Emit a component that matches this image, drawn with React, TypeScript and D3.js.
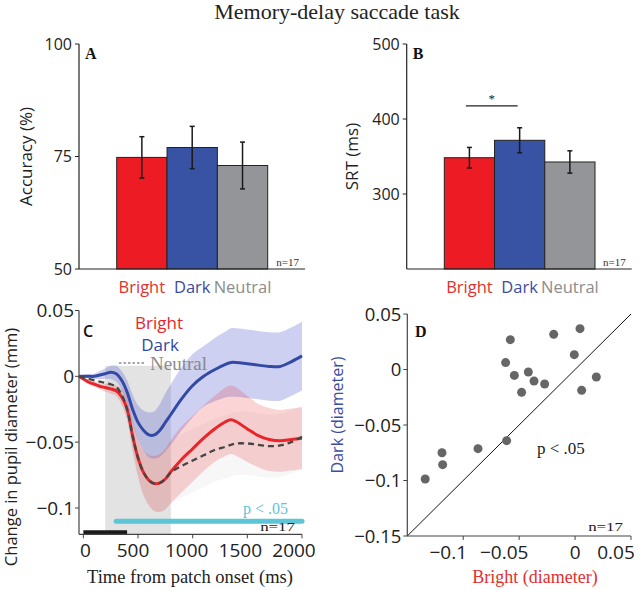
import React from "react";
import * as d3 from "d3";

// ---------- Data ----------
const CATS = ["Bright", "Dark", "Neutral"];
const BAR_COLORS = ["#ed1c24", "#3853a4", "#939598"];
const LABEL_COLORS = ["#e2302e", "#3a4da0", "#8c8c8c"];

const ACC_MEAN = [74.8, 77.0, 73.0];
const ACC_ERR = [4.6, 4.7, 5.2];
const ACC_TICKS = [50, 75, 100];

const SRT_MEAN = [348.4, 371.6, 342.7];
const SRT_ERR = [13.7, 16.7, 14.9];
const SRT_TICKS = [300, 400, 500];

const TIMES = [-40, 0, 50, 100, 150, 200, 250, 300, 350, 400, 450, 500, 550, 600, 650, 700, 750, 800, 900, 1000, 1100, 1200, 1300, 1350, 1400, 1500, 1600, 1700, 1800, 1900, 2000];
const DARK_MEAN = [0, 0, 0, 0, 0.001, 0.002, 0.003, 0.002, -0.003, -0.012, -0.025, -0.035, -0.041, -0.0445, -0.0445, -0.041, -0.035, -0.029, -0.017, -0.007, 0.0, 0.005, 0.009, 0.0105, 0.0105, 0.0095, 0.0085, 0.0075, 0.0075, 0.011, 0.0155];
const DARK_SEM = [0.0005, 0.001, 0.0015, 0.002, 0.003, 0.004, 0.005, 0.006, 0.007, 0.009, 0.011, 0.013, 0.015, 0.017, 0.018, 0.02, 0.022, 0.023, 0.024, 0.024, 0.023, 0.024, 0.025, 0.026, 0.026, 0.026, 0.026, 0.026, 0.026, 0.026, 0.026];
const BRIGHT_MEAN = [0, -0.002, -0.0045, -0.006, -0.0075, -0.0085, -0.0095, -0.011, -0.0155, -0.025, -0.045, -0.062, -0.073, -0.079, -0.0815, -0.081, -0.078, -0.0725, -0.063, -0.055, -0.047, -0.04, -0.0345, -0.033, -0.0345, -0.04, -0.045, -0.048, -0.049, -0.048, -0.047];
const BRIGHT_SEM = [0.0005, 0.001, 0.0015, 0.002, 0.0025, 0.003, 0.0035, 0.004, 0.006, 0.008, 0.011, 0.014, 0.017, 0.019, 0.021, 0.022, 0.023, 0.024, 0.025, 0.025, 0.025, 0.025, 0.026, 0.026, 0.026, 0.025, 0.024, 0.024, 0.0235, 0.0235, 0.0235];
const NEUTRAL_MEAN = [0, -0.001, -0.002, -0.003, -0.004, -0.005, -0.006, -0.008, -0.014, -0.025, -0.045, -0.062, -0.073, -0.079, -0.0815, -0.081, -0.078, -0.073, -0.068, -0.064, -0.06, -0.056, -0.0535, -0.052, -0.051, -0.051, -0.052, -0.053, -0.0525, -0.05, -0.046];
const NEUTRAL_SEM = [0.0005, 0.001, 0.0015, 0.002, 0.0025, 0.003, 0.004, 0.005, 0.007, 0.009, 0.012, 0.015, 0.018, 0.02, 0.021, 0.022, 0.023, 0.023, 0.024, 0.024, 0.024, 0.024, 0.024, 0.024, 0.024, 0.024, 0.024, 0.024, 0.024, 0.024, 0.024];
const SHADE_WINDOW = [200, 800];
const SHADE_TOP = 0.008;
const SIG_WINDOW = [300, 2000];
const SIG_Y = -0.11;
const STIM_WINDOW = [0, 400];
const C_XTICKS = [0, 500, 1000, 1500, 2000];
const C_YTICKS = [0.05, 0, -0.05, -0.1];

const D_BRIGHT = [-0.134, -0.119, -0.1184, -0.0868, -0.0612, -0.0621, -0.0579, -0.0543, -0.0478, -0.0418, -0.0367, -0.0272, -0.0191, -0.0007, 0.0044, 0.0059, 0.019];
const D_DARK = [-0.0986, -0.075, -0.0857, -0.0713, -0.0641, 0.0062, 0.0269, -0.0053, -0.0206, -0.0023, -0.0104, -0.0131, 0.0317, 0.0134, 0.0368, -0.0188, -0.0068];
const D_XTICKS = [-0.1, -0.05, 0, 0.05];
const D_YTICKS = [0.05, 0, -0.05, -0.1, -0.15];

const SERIF = "'Liberation Serif', 'Times New Roman', serif";
const SANS = "'Open Sans', 'Noto Sans', sans-serif";

function fmt(v: number): string {
  if (v === 0) return "0";
  return (v < 0 ? "\u2212" : "") + String(Math.abs(v));
}

function NLabel(props: { x: number; y: number }) {
  return (
    <g transform={`translate(${props.x},${props.y}) scale(1.3,1)`}>
      <text x={0} y={0} textAnchor="end" fontFamily={SERIF} fontSize={13} fill="#222">n=17</text>
    </g>
  );
}

function BarPanel(props: {
  x0: number; x1: number; axisX: number; axisEnd: number; top: number; bottom: number;
  domain: [number, number]; means: number[]; errs: number[]; ticks: number[];
  ylabel: string; ylabelX: number; letter: string; sig?: boolean;
}) {
  const y = d3.scaleLinear().domain(props.domain).range([props.bottom, props.top]);
  const x = d3.scaleBand<string>().domain(CATS).range([props.x0, props.x1]).padding(0);
  const bw = x.bandwidth();
  const midY = (props.top + props.bottom) / 2;
  return (
    <g>
      {CATS.map((c, i) => (
        <rect key={c} x={x(c)} y={y(props.means[i])} width={bw} height={props.bottom - y(props.means[i])}
          fill={BAR_COLORS[i]} stroke="#222" strokeWidth={1} />
      ))}
      {CATS.map((c, i) => {
        const cx = (x(c) as number) + bw / 2;
        const yt = y(props.means[i] + props.errs[i]);
        const yb = y(props.means[i] - props.errs[i]);
        return (
          <g key={c} stroke="#1a1a1a" strokeWidth={1.5}>
            <line x1={cx} x2={cx} y1={yt} y2={yb} />
            <line x1={cx - 2.5} x2={cx + 2.5} y1={yt} y2={yt} />
            <line x1={cx - 2.5} x2={cx + 2.5} y1={yb} y2={yb} />
          </g>
        );
      })}
      <line x1={props.axisX} x2={props.axisX} y1={props.top} y2={props.bottom} stroke="#222" strokeWidth={1.2} />
      <line x1={props.axisX} x2={props.axisEnd} y1={props.bottom} y2={props.bottom} stroke="#222" strokeWidth={1.2} />
      {props.ticks.map(t => (
        <g key={t}>
          <line x1={props.axisX - 4} x2={props.axisX} y1={y(t)} y2={y(t)} stroke="#222" strokeWidth={1} />
          <text x={props.axisX - 7} y={y(t)} dy="0.36em" textAnchor="end" fontFamily={SANS} fontSize={16} fill="#222">{t}</text>
        </g>
      ))}
      <text transform={`translate(${props.ylabelX},${midY}) rotate(-90)`} textAnchor="middle" fontFamily={SANS} fontSize={17} fill="#222">{props.ylabel}</text>
      <text x={props.axisX + 6} y={props.top + 15} fontFamily={SERIF} fontWeight="bold" fontSize={16} fill="#111">{props.letter}</text>
      <text x={props.axisEnd - 6} y={props.bottom - 3} textAnchor="end" fontFamily={SERIF} fontSize={11} fill="#333">n=17</text>
      {CATS.map((c, i) => (
        <text key={c} x={(x(c) as number) + bw / 2} y={props.bottom + 24} textAnchor="middle" fontFamily={SANS} fontSize={16.5} fill={LABEL_COLORS[i]}>{c}</text>
      ))}
      {props.sig && (() => {
        const a = (x(CATS[0]) as number) + bw * 0.43;
        const b = (x(CATS[1]) as number) + bw * 0.46;
        const yy = y(SRT_MEAN[1] + SRT_ERR[1]) - 22;
        return (
          <g>
            <line x1={a} x2={b} y1={yy} y2={yy} stroke="#222" strokeWidth={1.2} />
            <text x={(a + b) / 2} y={yy - 3} textAnchor="middle" fontFamily={SERIF} fontSize={13} fill="#222">*</text>
          </g>
        );
      })()}
    </g>
  );
}

function PupilPanel() {
  const x = d3.scaleLinear().domain([-40, 2000]).range([79, 302]);
  const y = d3.scaleLinear().domain([-0.12, 0.05]).range([534.3, 310.5]);
  const idx = TIMES.map((_, i) => i);
  const curve = d3.curveCatmullRom.alpha(0.5);
  const band = (m: number[], s: number[]) =>
    d3.area<number>().x(i => x(TIMES[i])).y0(i => y(m[i] - s[i])).y1(i => y(m[i] + s[i])).curve(curve)(idx) as string;
  const line = (m: number[]) => d3.line<number>().x(i => x(TIMES[i])).y(i => y(m[i])).curve(curve)(idx) as string;
  const [y0, y1] = y.range();
  return (
    <g>
      <rect x={x(SHADE_WINDOW[0])} width={x(SHADE_WINDOW[1]) - x(SHADE_WINDOW[0])} y={y(SHADE_TOP)} height={y0 - y(SHADE_TOP)} fill="rgb(200,200,200)" opacity={0.5} />
      <path d={band(NEUTRAL_MEAN, NEUTRAL_SEM)} fill="rgb(200,200,200)" opacity={0.15} />
      <path d={band(DARK_MEAN, DARK_SEM)} fill="rgb(90,100,210)" opacity={0.3} />
      <path d={band(BRIGHT_MEAN, BRIGHT_SEM)} fill="rgb(237,40,50)" opacity={0.2} />
      <path d={line(DARK_MEAN)} fill="none" stroke="#3349a6" strokeWidth={3} />
      <path d={line(BRIGHT_MEAN)} fill="none" stroke="#e8262a" strokeWidth={3} />
      <path d={line(NEUTRAL_MEAN)} fill="none" stroke="#454545" strokeWidth={2.3} strokeDasharray="6 4" />
      <line x1={x(SIG_WINDOW[0])} x2={x(SIG_WINDOW[1])} y1={y(SIG_Y)} y2={y(SIG_Y)} stroke="#5cc6d6" strokeWidth={5} strokeLinecap="round" />
      <line x1={x(STIM_WINDOW[0])} x2={x(STIM_WINDOW[1])} y1={y0 - 2} y2={y0 - 2} stroke="#1a1a1a" strokeWidth={4} />
      {/* axes */}
      <line x1={79} x2={79} y1={y1} y2={y0} stroke="#444" strokeWidth={1.2} />
      <line x1={79} x2={302} y1={y0} y2={y0} stroke="#444" strokeWidth={1.2} />
      {C_XTICKS.map((t, i) => (
        <g key={t}>
          <line x1={x(t)} x2={x(t)} y1={y0} y2={y0 + 4} stroke="#444" />
          <text x={x(t)} dx={i === 0 ? 2 : -4 - i} y={556.7} textAnchor="middle" fontFamily={SANS} fontSize={19} fill="#222">{t}</text>
        </g>
      ))}
      {C_YTICKS.map(t => (
        <g key={t}>
          <line x1={75} x2={79} y1={y(t)} y2={y(t)} stroke="#444" />
          <text x={74} y={y(t)} dy="0.36em" textAnchor="end" fontFamily={SANS} fontSize={19} fill="#222">{fmt(t)}</text>
        </g>
      ))}
      <text x={190} y={583} textAnchor="middle" fontFamily={SERIF} fontSize={18.5} fill="#222">Time from patch onset (ms)</text>
      <text transform={`translate(17,447) rotate(-90)`} textAnchor="middle" fontFamily={SANS} fontSize={16.5} fill="#222">Change in pupil diameter (mm)</text>
      <text x={83} y={336.5} fontFamily={SANS} fontWeight={600} fontSize={16} fill="#111">C</text>
      {/* legend */}
      <text x={159} y={329} textAnchor="middle" fontFamily={SANS} fontSize={17} fill="#e8262a">Bright</text>
      <text x={160} y={351} textAnchor="middle" fontFamily={SANS} fontSize={17} fill="#3349a6">Dark</text>
      <line x1={119} x2={144} y1={363} y2={363} stroke="#555" strokeWidth={1.2} strokeDasharray="2.5 2" />
      <text x={150} y={370} fontFamily={SERIF} fontSize={19} fill="#808080" opacity={0.9}>Neutral</text>
      <text x={288} y={513.5} textAnchor="end" fontFamily={SERIF} fontSize={16} fill="#5cc6d6">p &lt; .05</text>
      <NLabel x={295} y={531} />
    </g>
  );
}

function ScatterPanel() {
  const x = d3.scaleLinear().domain([-0.15, 0.05]).range([407.3, 631]);
  const y = d3.scaleLinear().domain([-0.15, 0.05]).range([536, 314]);
  const [y0, y1] = y.range();
  const [x0, x1] = x.range();
  return (
    <g>
      <line x1={x(-0.15)} y1={y(-0.15)} x2={x(0.05)} y2={y(0.05)} stroke="#111" strokeWidth={1} />
      {D_BRIGHT.map((b, i) => (
        <circle key={i} cx={x(b)} cy={y(D_DARK[i])} r={4.5} fill="#666" />
      ))}
      <line x1={x0} x2={x0} y1={y1} y2={y0} stroke="#444" strokeWidth={1.2} />
      <line x1={x0} x2={x1} y1={y0} y2={y0} stroke="#444" strokeWidth={1.2} />
      {D_XTICKS.map(t => (
        <g key={t}>
          <line x1={x(t)} x2={x(t)} y1={y0} y2={y0 + 4} stroke="#444" />
          <text x={x(t)} dx={t === 0 ? 0 : -15} y={558.5} textAnchor="middle" fontFamily={SANS} fontSize={19} fill="#222">{fmt(t)}</text>
        </g>
      ))}
      {D_YTICKS.map(t => (
        <g key={t}>
          <line x1={x0 - 4} x2={x0} y1={y(t)} y2={y(t)} stroke="#444" />
          <text x={x0 - 6} y={y(t)} dy="0.36em" textAnchor="end" fontFamily={SANS} fontSize={18.5} fill="#222">{fmt(t)}</text>
        </g>
      ))}
      <text x={535} y={583} textAnchor="middle" fontFamily={SERIF} fontSize={18} fill="#e2302e">Bright (diameter)</text>
      <text transform={`translate(343,415) rotate(-90)`} textAnchor="middle" fontFamily={SANS} fontSize={16} fill="#3a4da0">Dark (diameter)</text>
      <text x={415} y={336.5} fontFamily={SERIF} fontWeight="bold" fontSize={16} fill="#111">D</text>
      <text x={537} y={453.5} fontFamily={SERIF} fontSize={17} fill="#222">p &lt; .05</text>
      <NLabel x={623} y={531} />
    </g>
  );
}

export default function App() {
  return (
    <svg width={640} height={590} style={{ position: "absolute", left: 0, top: 0, background: "#fff" }}>
      <rect width={640} height={590} fill="#fff" />
      <text x={337} y={18.5} textAnchor="middle" fontFamily={SERIF} fontSize={22} fill="#222">Memory-delay saccade task</text>
      <BarPanel x0={116.7} x1={267.7} axisX={79} axisEnd={305} top={44} bottom={269}
        domain={[50, 100]} means={ACC_MEAN} errs={ACC_ERR} ticks={ACC_TICKS}
        ylabel="Accuracy (%)" ylabelX={32} letter="A" />
      <BarPanel x0={444.3} x1={595} axisX={406.7} axisEnd={631.7} top={44} bottom={269}
        domain={[200, 500]} means={SRT_MEAN} errs={SRT_ERR} ticks={SRT_TICKS}
        ylabel="SRT (ms)" ylabelX={358} letter="B" sig />
      <PupilPanel />
      <ScatterPanel />
    </svg>
  );
}
